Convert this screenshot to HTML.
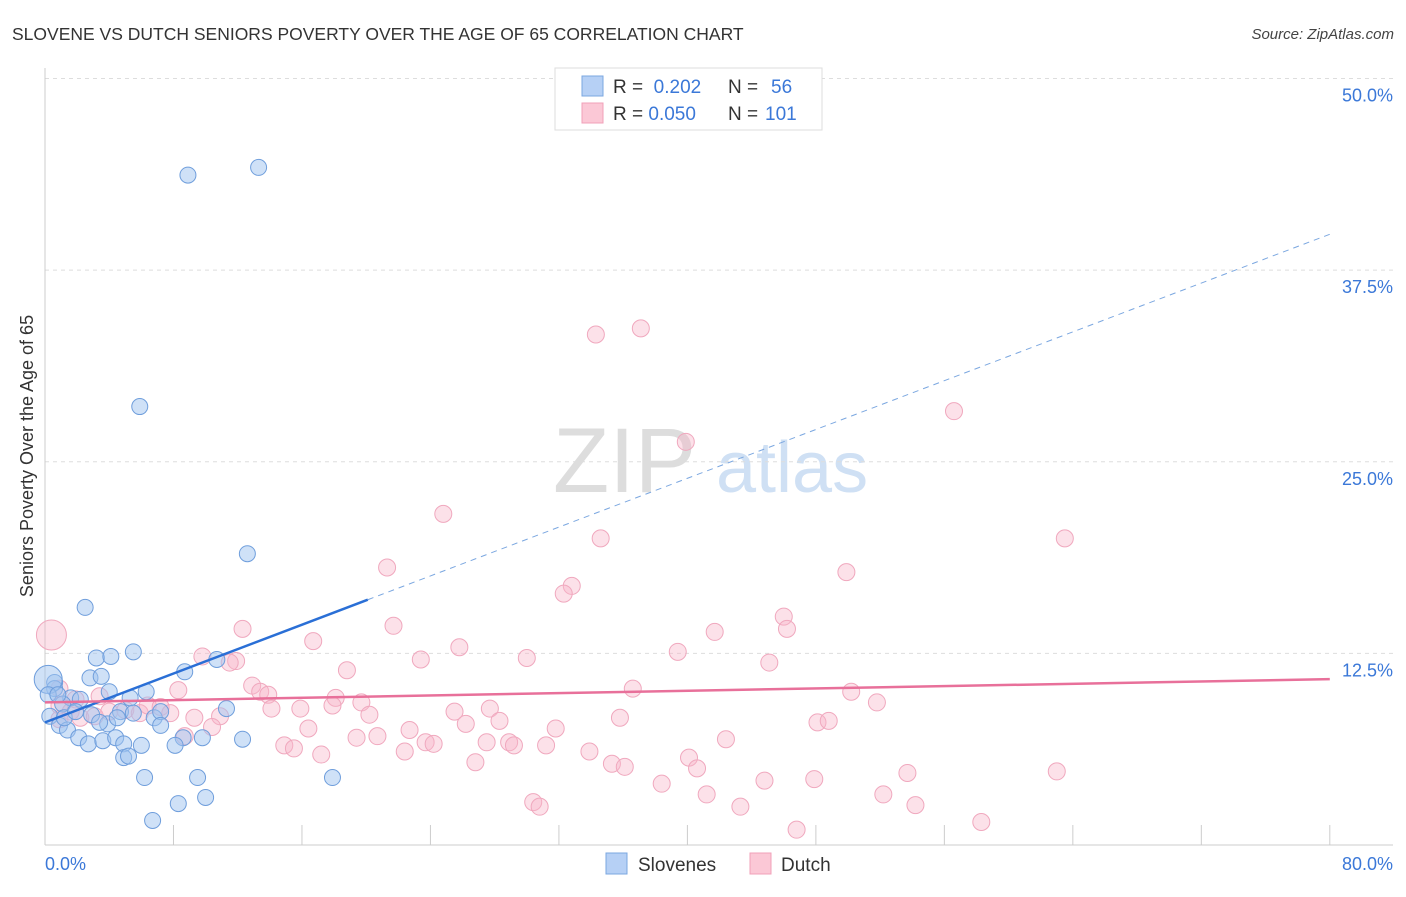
<!DOCTYPE html>
<html><head><meta charset="utf-8"><style>
body{margin:0;background:#fff;font-family:"Liberation Sans",sans-serif;}
svg text{font-family:"Liberation Sans",sans-serif;}
</style></head><body>
<svg id="chart" width="1406" height="892">
<text x="12" y="40" font-size="17.5" fill="#333">SLOVENE VS DUTCH SENIORS POVERTY OVER THE AGE OF 65 CORRELATION CHART</text>
<text x="1394" y="39" font-size="15" fill="#444" font-style="italic" text-anchor="end">Source: ZipAtlas.com</text>
<g>
<text x="553" y="492" font-size="92" font-family="Liberation Serif" fill="#ddd">ZIP</text>
<text x="716" y="492" font-size="72" fill="#cfe0f4">atlas</text>
</g>
<g id="grid"></g><g id="axes"></g><g id="pink"></g><g id="blue"></g><g id="trend"></g>
<text x="33" y="456" font-size="18" fill="#333" text-anchor="middle" transform="rotate(-90 33 456)">Seniors Poverty Over the Age of 65</text>
<text x="45" y="870" font-size="18" fill="#3b78d8">0.0%</text>
<text x="1393" y="870" font-size="18" fill="#3b78d8" text-anchor="end">80.0%</text>
<g>
<rect x="555" y="68" width="267" height="62" fill="#fff" stroke="#ddd"/>
<rect x="582" y="76" width="21" height="20" fill="#b6d0f5" stroke="#7ba7e0"/>
<rect x="582" y="103" width="21" height="20" fill="#fbc8d6" stroke="#f0a0b8"/>
<text x="613" y="93" font-size="19" fill="#333">R = <tspan fill="#3b78d8">&#160;0.202</tspan><tspan x="728">N = </tspan><tspan fill="#3b78d8" x="771">56</tspan></text>
<text x="613" y="120" font-size="19" fill="#333">R = <tspan fill="#3b78d8">0.050</tspan><tspan x="728">N = </tspan><tspan fill="#3b78d8" x="765">101</tspan></text>
</g>
<g>
<rect x="606" y="853" width="21" height="21" fill="#b6d0f5" stroke="#7ba7e0"/>
<text x="638" y="871" font-size="19" fill="#333">Slovenes</text>
<rect x="750" y="853" width="21" height="21" fill="#fbc8d6" stroke="#f0a0b8"/>
<text x="781" y="871" font-size="19" fill="#333">Dutch</text>
</g>
</svg>
<script>
const yTicks=[12.5,25,37.5,50];
const yTickLabels=["12.5%","25.0%","37.5%","50.0%"];
const xTicks=[8,16,24,32,40,48,56,64,72,80];
const blueX=[8.9,13.3,5.9,12.6,2.5,5.5,3.2,4.1,8.7,10.7,2.8,3.5,0.6,4.0,6.3,5.3,0.6,1.6,2.2,1.1,0.3,0.9,1.4,2.1,2.7,3.6,4.4,4.9,6.0,3.9,4.7,4.5,5.5,6.8,7.2,7.2,8.6,8.1,9.8,11.3,12.3,4.9,5.2,6.2,9.5,8.3,10.0,6.7,17.9,0.2,0.2,1.2,1.9,2.9,3.4,0.8];
const blueY=[43.7,44.2,28.6,19.0,15.5,12.6,12.2,12.3,11.3,12.1,10.9,11.0,10.6,10.0,10.0,9.6,10.2,9.6,9.5,9.2,8.4,7.8,7.5,7.0,6.6,6.8,7.0,6.6,6.5,7.9,8.7,8.3,8.6,8.3,8.7,7.8,7.0,6.5,7.0,8.9,6.9,5.7,5.8,4.4,4.4,2.7,3.1,1.6,4.4,10.8,9.8,8.3,8.7,8.5,8.0,9.8];
const blueBig=[49];
const pinkX=[0.4,34.3,37.1,56.6,39.9,24.8,34.6,63.5,21.3,32.8,32.3,49.9,46.0,46.2,21.7,12.3,41.7,16.7,25.8,39.4,11.9,18.8,23.4,30.0,45.1,9.8,11.5,8.3,12.9,13.4,13.9,18.1,36.6,50.2,51.8,19.7,14.1,15.9,17.9,20.2,25.5,27.7,28.3,35.8,48.1,48.8,26.2,22.7,31.8,16.4,19.4,20.7,23.7,24.2,27.5,28.9,29.2,31.2,22.4,14.9,15.5,17.2,33.9,40.1,42.4,26.8,35.3,36.1,40.6,53.7,63.0,44.8,47.9,38.4,41.2,43.3,52.2,54.2,30.4,30.8,58.3,46.8,0.9,1.6,2.2,3.1,4.0,5.0,5.9,6.4,7.2,7.8,9.3,10.9,10.4,8.7,0.9,1.9,3.4,0.9];
const pinkY=[13.7,33.3,33.7,28.3,26.3,21.6,20.0,20.0,18.1,16.9,16.4,17.8,14.9,14.1,14.3,14.1,13.9,13.3,12.9,12.6,12.0,11.4,12.1,12.2,11.9,12.3,11.9,10.1,10.4,10.0,9.8,9.6,10.2,10.0,9.3,9.3,8.9,8.9,9.1,8.5,8.7,8.9,8.1,8.3,8.0,8.1,7.9,7.5,7.6,7.6,7.0,7.1,6.7,6.6,6.7,6.7,6.5,6.5,6.1,6.5,6.3,5.9,6.1,5.7,6.9,5.4,5.3,5.1,5.0,4.7,4.8,4.2,4.3,4.0,3.3,2.5,3.3,2.6,2.8,2.5,1.5,1.0,9.1,8.7,8.3,8.4,8.7,8.8,8.6,9.1,9.0,8.6,8.3,8.4,7.7,7.1,10.2,9.5,9.7,8.2];
const pinkBig=[0];
const blueTrend=[8.0,0.398]; const blueSolidEnd=20.1;
const pinkTrend=[9.3,0.019];
const X=v=>45+v*16.06, Y=v=>845-v*15.33;
const NS="http://www.w3.org/2000/svg";
function mk(p,tag,a){const e=document.createElementNS(NS,tag);for(const k in a)e.setAttribute(k,a[k]);document.getElementById(p).appendChild(e);return e;}
yTicks.forEach((t,i)=>{
 const l=mk('grid','line',{x1:45,x2:1393,y1:Y(t),y2:Y(t),stroke:'#ddd','stroke-dasharray':'4,4'});
 
 
 const tx=mk('grid','text',{x:1393,y:Y(t)+23,'font-size':18,fill:'#3b78d8','text-anchor':'end'});tx.textContent=yTickLabels[i];
 
 
});
const ax=mk('axes','line',{x1:45,x2:45,y1:68,y2:845,stroke:'#ccc'});


const bx=mk('axes','line',{x1:45,x2:1393,y1:845,y2:845,stroke:'#ccc'});


xTicks.forEach(t=>{const l=mk('axes','line',{x1:X(t),x2:X(t),y1:825,y2:845,stroke:'#ccc'});
 
 });
pinkX.forEach((v,i)=>{const c=mk('pink','circle',{cx:X(v),cy:Y(pinkY[i]),r:pinkBig.includes(i)?15:8.5,fill:'rgba(248,180,200,0.4)',stroke:'#f0a8be','stroke-width':1});
 
 });
blueX.forEach((v,i)=>{const c=mk('blue','circle',{cx:X(v),cy:Y(blueY[i]),r:blueBig.includes(i)?14:8,fill:'rgba(160,196,240,0.5)',stroke:'#6f9edc','stroke-width':1});
 
 });
const b1=mk('trend','line',{x1:X(0),y1:Y(blueTrend[0]),x2:X(blueSolidEnd),y2:Y(blueTrend[0]+blueTrend[1]*blueSolidEnd),stroke:'#2a6fd6','stroke-width':2.5});


const b2=mk('trend','line',{x1:X(blueSolidEnd),y1:Y(blueTrend[0]+blueTrend[1]*blueSolidEnd),x2:X(80),y2:Y(blueTrend[0]+blueTrend[1]*80),stroke:'#7ba7e0','stroke-width':1,'stroke-dasharray':'6,5'});


const p1=mk('trend','line',{x1:X(0),y1:Y(pinkTrend[0]),x2:X(80),y2:Y(pinkTrend[0]+pinkTrend[1]*80),stroke:'#e8709a','stroke-width':2.5});


</script>
</body></html>
